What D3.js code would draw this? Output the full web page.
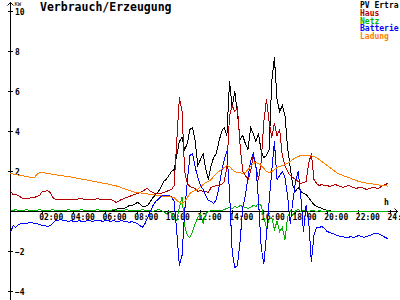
<!DOCTYPE html>
<html><head><meta charset="utf-8">
<script src="https://cdn.jsdelivr.net/npm/d3@7"></script>
<style>
html,body{margin:0;padding:0;background:#fff;}
svg{display:block;}
</style></head><body>
<svg id="c" width="400" height="300"></svg>
<script>
// ---- data ----
const xTickHours = [2,4,6,8,10,12,14,16,18,20,22,24];
const xTickLabels = ["02:00","04:00","06:00","08:00","10:00","12:00","14:00","16:00","18:00","20:00","22:00","24:00"];
const yTickValues = [-4,-2,2,4,6,8,10];
const seriesNames = ["PV Ertra","Haus","Netz","Batterie","Ladung"];
// sample times: every 10 minutes from 00:00
const hours = d3.range(144).map(i => i / 6);

const pv = [0,0,0,0,0,0,0,0,0,0, 0,0,0,0,0,0,0,0,0,0, 0,0,0,0,0,0,0,0,0,0, 0,0,0,0,0,0,0,0,0,
 0.05,0.1,0.15,0.15,0.15,0.2,0.3,0.3,0.35,0.45,0.4,0.25,0.25,0.3,0.5,0.7,0.85,1.0,1.2,1.5,1.6,1.8,2.0,2.1,2.8,3.5,3.7,3.1,3.4,4.1,4.2,3.5,2.3,2.6,2.9,2.1,1.6,2.3,2.7,2.9,3.5,4.0,4.2,3.8,6.5,5.2,6.0,4.9,3.6,3.8,3.4,3.1,4.2,3.9,3.5,3.9,3.0,2.7,2.8,3.1,6.5,7.7,5.6,5.0,5.3,4.8,3.2,2.2,1.3,1.0,1.2,1.0,0.9,0.85,0.7,0.5,0.35,0.25,0.2,0.15,0.1,0.05,0.05,
 0,0,0,0,0,0,0,0,0,0,0,0,0,0,0,0,0,0,0,0,0,0];

const haus = [1.0,0.85,0.85,0.8,0.7,0.65,0.65,0.65,0.7,0.7,0.75,0.8,1.0,1.0,1.05,0.95,0.7,
 0.6,0.6,0.6,0.62,0.6,0.6,0.62,0.6,0.6,0.65,0.65,0.6,0.6,0.62,0.6,0.6,0.65,0.6,0.6,0.62,0.6,0.6,
 0.55,0.45,0.5,0.6,0.65,0.7,0.75,0.8,0.85,0.9,0.95,1.0,1.1,1.15,1.0,0.95,0.9,0.9,0.9,0.95,1.0,1.05,1.1,1.3,
 3.5,5.7,5.0,2.0,1.4,1.25,1.2,1.15,1.0,1.05,1.0,1.0,0.95,1.2,1.25,1.3,1.3,1.35,1.5,2.2,4.8,5.3,5.0,5.2,3.3,2.0,1.8,1.6,2.0,2.8,2.2,1.6,2.5,4.5,5.6,4.5,3.7,4.4,3.8,4.1,2.8,2.3,2.0,1.8,1.7,1.6,1.5,1.4,1.45,1.5,2.4,2.9,1.6,1.4,1.3,1.35,1.3,
 1.3,1.25,1.3,1.35,1.3,1.25,1.2,1.25,1.3,1.25,1.2,1.15,1.2,1.2,1.15,1.1,1.15,1.2,1.2,1.15,1.2,1.3,1.35,1.4];

const netz = [0.05,0.05,0.1,0.05,0.05,0.05,0.1,0.05,0.05,0.05, 0.05,0.1,0.05,0.05,0.05,0.05,0.1,0.05,0.05,0.05,
 0.05,0.05,0.1,0.05,0.05,0.05,0.05,0.1,0.05,0.05, 0.05,0.05,0.05,0.1,0.05,0.05,0.05,0.05,0.05,0.1,
 0.05,0.05,0.05,0.05,0.1,0.05,0.05,0.05,0.05,0.05, 0.1,0.05,0.05,0.05,0.0,0.05,0.1,0.05,0.0,-0.1,0.0,-0.1,
 -0.3,-0.45,0.2,0.7,-0.7,-1.2,-1.3,-1.0,-0.6,-0.3,-0.1,-0.6,-0.1,0.0,0.05,0.05,0.05,0.05,0.05,0.1,0.15,0.2,0.15,0.25,0.2,0.3,0.25,0.2,0.15,0.2,0.3,0.25,0.4,0.3,-0.3,-0.8,-0.4,-0.3,-0.9,-0.5,-1.0,-0.8,-1.4,-0.3,0.05,-0.2,0.05,0.1,0.0,0.05,
 0.05,0.0,0.05,0.05,0.0,0.05,0.0,0.0,0.05,0.0, 0.0,0.0,0.0,0.0,0.0,0.0,0.0,0.0,0.0,0.0, 0.0,0.0,0.0,0.0,0.0,0.0,0.0,0.0,0.0,0.0,0.0,0.0];

const batterie = [-1.05,-0.7,-0.8,-0.65,-0.6,-0.6,-0.6,-0.55,-0.55,-0.6,-0.6,-0.65,-0.7,-0.7,-0.75,-0.7,-0.6,-0.45,-0.45,-0.4,-0.45,-0.45,-0.5,-0.45,-0.5,-0.5,-0.45,-0.5,-0.5,-0.45,-0.45,-0.5,-0.45,-0.45,-0.45,-0.5,-0.45,-0.45,-0.5,-0.45,-0.5,-0.5,-0.45,-0.5,-0.5,-0.55,-0.5,-0.55,-0.6,-0.7,-0.8,-0.6,
 -0.3,0.0,0.3,0.5,0.6,0.75,0.8,0.8,0.8,0.75,0.5,-1.0,-2.7,-2.2,0.0,1.5,2.8,2.9,2.2,1.7,1.3,1.1,0.8,0.55,0.5,0.4,0.6,1.2,2.0,2.6,3.0,1.0,-2.0,-2.8,-2.7,-1.5,0.2,0.8,1.7,2.5,2.9,2.3,0.5,-1.8,-2.6,-1.2,0.5,2.0,3.5,1.6,1.8,2.0,1.7,0.8,-0.6,0.5,1.5,2.0,0.8,-1.0,0.3,-0.5,-2.5,-1.2,-0.8,-0.8,-0.75,-0.85,
 -1.0,-1.05,-1.1,-1.15,-1.2,-1.25,-1.25,-1.3,-1.3,-1.25,-1.3,-1.25,-1.2,-1.25,-1.3,-1.25,-1.2,-1.15,-1.1,-1.1,-1.15,-1.2,-1.3,-1.35];

const ladung = [1.9,1.87,1.85,1.82,1.8,1.78,1.75,1.72,1.7,1.68,1.85,1.95,1.95,1.93,1.9,1.88,1.86,1.84,1.82,1.8,1.78,1.76,1.74,1.72,1.7,1.67,1.65,1.62,1.6,1.57,1.55,1.52,1.5,1.47,1.45,1.42,1.4,1.37,1.34,1.31,1.28,1.25,1.18,1.14,1.1,1.05,1.0,0.97,0.95,0.93,0.92,0.9,0.88,0.85,0.85,0.82,0.8,0.78,0.76,0.75,0.75,0.72,
 0.7,0.55,0.45,0.4,0.5,0.7,0.9,1.0,1.05,1.1,1.25,1.35,1.45,1.5,1.6,1.75,1.9,2.0,2.1,2.2,2.3,2.25,2.1,2.0,1.95,1.95,1.9,1.95,2.1,2.25,2.4,2.45,2.4,2.3,2.15,2.0,1.95,2.0,2.1,2.2,2.25,2.3,2.35,2.4,2.5,2.6,2.7,2.75,2.8,2.8,2.82,2.8,2.78,2.75,2.7,2.6,2.5,2.4,2.3,2.2,2.1,2.0,1.9,1.85,1.8,1.75,1.7,1.65,1.6,1.55,1.5,1.47,1.45,1.42,1.4,1.38,1.36,1.34,1.32,1.3,1.28,1.27];

// ---- styles ----
const colors = ["#000000","#b40000","#00b400","#0000ff","#ff8000"];
const FONT = "'DejaVu Sans Mono', monospace";

const svg = d3.select("#c");
const x = d3.scaleLinear().domain([0, 24]).range([10.5, 390.5]);
const y = d3.scaleLinear().domain([0, 10]).range([211.5, 11.5]);

// axes lines
svg.append("line").attr("x1",10.5).attr("x2",10.5).attr("y1",2).attr("y2",300)
  .attr("stroke","#000").attr("shape-rendering","crispEdges");
svg.append("polyline").attr("points","7.5,5.5 10.5,2.5 13.5,5.5").attr("fill","none").attr("stroke","#000");
svg.append("line").attr("x1",10).attr("x2",398).attr("y1",211.5).attr("y2",211.5)
  .attr("stroke","#000").attr("shape-rendering","crispEdges");
svg.append("polyline").attr("points","394.5,208.5 397.5,211.5 394.5,214.5").attr("fill","none").attr("stroke","#000");

// x axis ticks/labels
const gx = svg.append("g").attr("transform","translate(0,211.5)")
  .call(d3.axisBottom(x).tickValues(xTickHours).tickFormat((d,i)=>xTickLabels[i]).tickSize(0).offset(0));
gx.select(".domain").remove();
gx.attr("font-family", FONT).attr("font-size", 8).attr("font-weight","bold");
gx.selectAll(".tick line").attr("y1",-2).attr("y2",2).attr("stroke","#000").attr("shape-rendering","crispEdges");
gx.selectAll(".tick text").attr("text-anchor","start").attr("x",-3).attr("y",8.5).attr("dy",null).attr("fill","#000");

// y axis ticks/labels
const gy = svg.append("g").attr("transform","translate(10.5,0)")
  .call(d3.axisRight(y).tickValues(yTickValues).tickSize(0).offset(0));
gy.select(".domain").remove();
gy.attr("font-family", FONT).attr("font-size", 8).attr("font-weight","bold");
gy.selectAll(".tick line").attr("x1",-2.5).attr("x2",2.5).attr("stroke","#000").attr("shape-rendering","crispEdges");
gy.selectAll(".tick text").attr("x",4.5).attr("dy","0.38em").attr("fill","#000");

svg.append("text").attr("x",14.5).attr("y",6).attr("font-family",FONT).attr("font-size",5.5)
  .text("KW");
svg.append("text").attr("x",384).attr("y",205).attr("font-family",FONT).attr("font-size",8)
  .attr("font-weight","bold").text("h");

// title
svg.append("text").attr("x",40).attr("y",11).attr("font-family",FONT).attr("font-weight","bold")
  .attr("font-size",11.5).text("Verbrauch/Erzeugung");

// series
const allSeries = [pv, haus, netz, batterie, ladung];
const line = d3.line().x((d,i)=>x(hours[i])).y(d=>y(d));
allSeries.forEach((s, k) => {
  svg.append("path").datum(s).attr("d", line).attr("fill","none")
    .attr("stroke", colors[k]).attr("stroke-width",1).attr("shape-rendering","crispEdges");
});

// legend
seriesNames.forEach((n, k) => {
  svg.append("text").attr("x",360).attr("y",8 + k*7.75).attr("font-family",FONT).attr("font-size",8)
    .attr("font-weight","bold").attr("fill", colors[k]).text(n);
});
</script>
</body></html>
